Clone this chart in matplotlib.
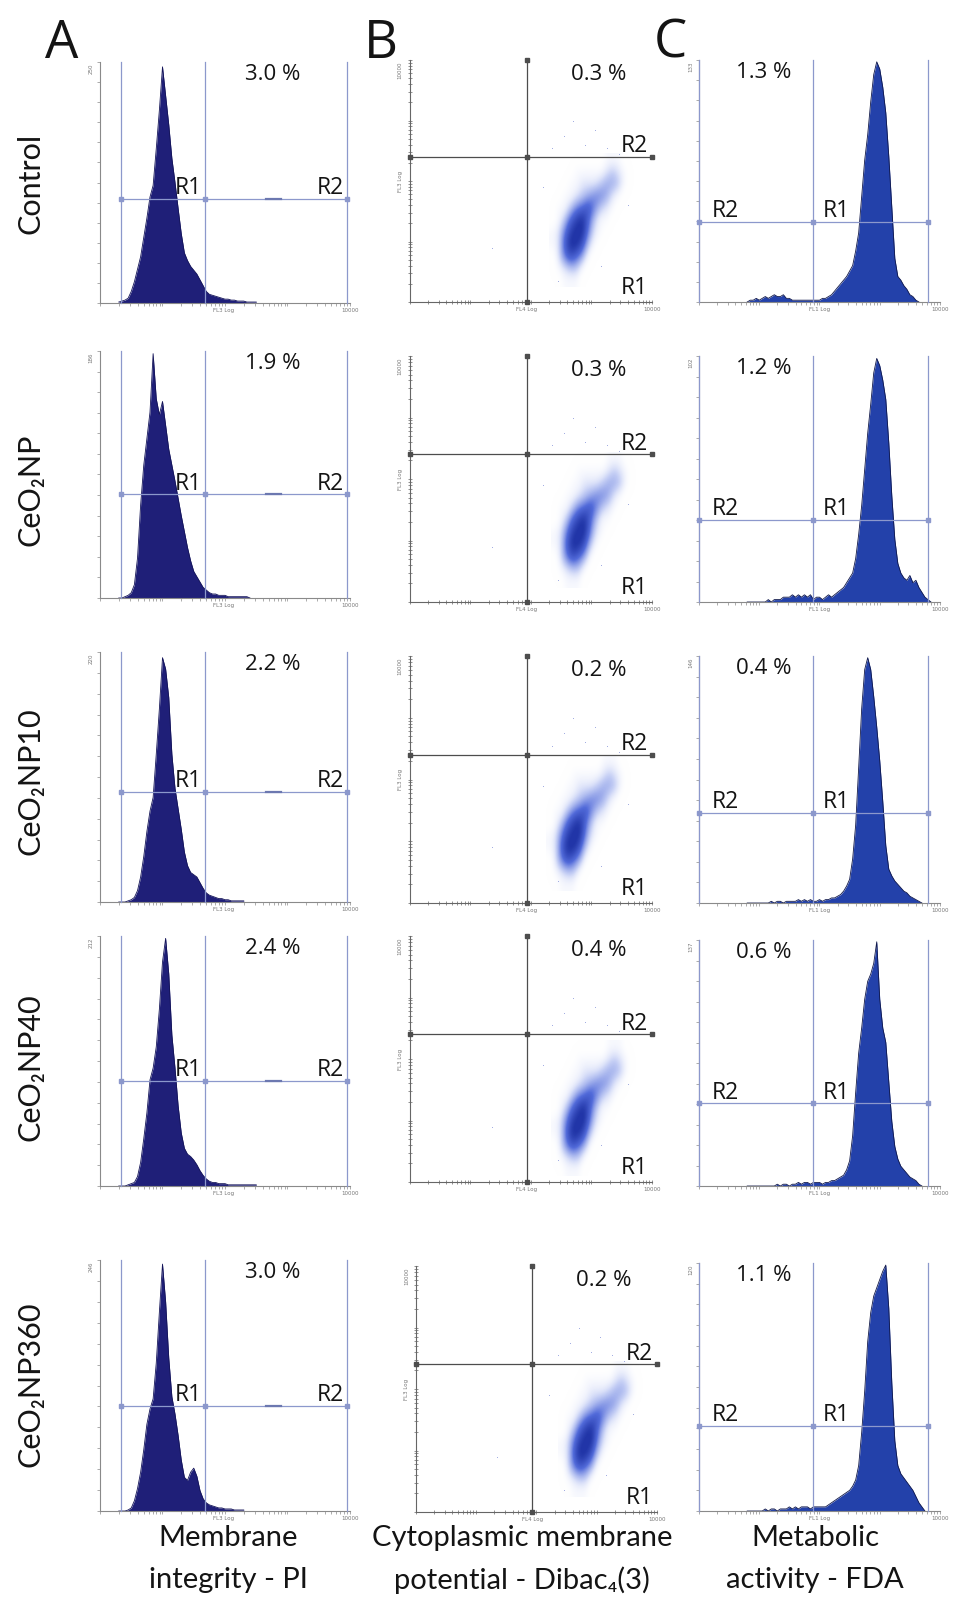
import numpy as np
import matplotlib
matplotlib.use("Agg")
import matplotlib.pyplot as plt
from matplotlib.colors import LinearSegmentedColormap

plt.rcParams["font.family"] = ["Lato", "DejaVu Sans"]
OPEN = ["Open Sans", "DejaVu Sans"]

W, H = 954, 1618  # canvas in pixels (dpi 100)

ROW_NAMES = ["Control", "CeO₂NP", "CeO₂NP10", "CeO₂NP40", "CeO₂NP360"]
COL_LINE1 = ["Membrane", "Cytoplasmic membrane", "Metabolic"]
COL_LINE2 = ["integrity - PI", "potential - Dibac₄(3)", "activity - FDA"]
PANEL_LETTERS = ["A", "B", "C"]

# ---- PI (FL3) histograms, channel centres in decades from 0.30, 0.05 apart
PI_START = 0.30
BIN = 0.05
PI_CONTROL = [1, 2, 3, 5, 12, 22, 35, 48, 68, 88, 110, 122, 160, 200, 245, 215, 185, 150, 125, 98,
              72, 52, 44, 38, 34, 30, 24, 18, 12, 9, 8, 7, 6, 5, 4, 4, 3, 3, 2, 2, 2, 1, 1, 1, 1]
PI_NP = [0, 0, 1, 2, 4, 10, 30, 70, 100, 120, 140, 184, 150, 138, 148, 130, 112, 100, 88, 75,
         62, 50, 38, 28, 20, 16, 12, 8, 6, 4, 3, 3, 2, 2, 2, 1, 1, 1, 1, 1, 1, 1, 0]
PI_NP10 = [0, 0, 0, 1, 2, 4, 10, 22, 40, 62, 80, 92, 130, 170, 215, 205, 180, 130, 100, 82,
           64, 44, 32, 26, 24, 22, 17, 12, 8, 6, 5, 4, 3, 3, 2, 2, 1, 1, 1, 1, 1]
PI_NP40 = [0, 0, 0, 1, 2, 3, 8, 20, 40, 62, 90, 100, 118, 150, 190, 210, 180, 128, 100, 68,
           45, 32, 27, 25, 22, 18, 13, 9, 6, 4, 3, 3, 2, 2, 2, 1, 1, 1, 1, 1, 1, 1, 1, 1, 1]
PI_NP360 = [0, 0, 0, 1, 3, 10, 22, 38, 60, 85, 100, 110, 145, 195, 242, 205, 150, 112, 95, 74,
            50, 33, 30, 38, 42, 34, 20, 12, 8, 6, 5, 4, 3, 3, 2, 2, 2, 1, 1, 1, 1]
PI_HISTS = [PI_CONTROL, PI_NP, PI_NP10, PI_NP40, PI_NP360]
PI_YMAX = [250, 186, 220, 212, 246]
PI_GATE_Y = [108, 78, 97, 89, 103]
PI_GATES_X = [0.34, 1.68, 3.95]
PI_PCT = ["3.0 %", "1.9 %", "2.2 %", "2.4 %", "3.0 %"]

# ---- FDA (FL1) histograms, channel centres in decades from 0.80
FDA_START = 0.80
FDA_CONTROL = [0, 1, 1, 2, 1, 2, 3, 2, 3, 4, 3, 3, 4, 2, 2, 1, 1, 1, 1, 1, 1, 1, 1, 1, 1,
               2, 2, 3, 4, 6, 8, 10, 12, 14, 17, 20, 28, 38, 58, 78, 92, 110, 125, 132, 128,
               118, 104, 80, 52, 24, 14, 12, 9, 7, 4, 3, 1, 0]
FDA_NP = [0, 0, 0, 0, 0, 0, 0, 1, 0, 1, 1, 1, 2, 2, 2, 3, 2, 3, 2, 3, 2, 3, 1, 2, 2, 1, 2,
          3, 2, 3, 4, 5, 6, 8, 10, 12, 18, 28, 40, 55, 70, 82, 95, 101, 98, 92, 84, 66, 44,
          26, 16, 12, 10, 9, 11, 8, 9, 6, 4, 2, 1, 0]
FDA_NP10 = [0, 0, 0, 0, 0, 0, 0, 0, 1, 0, 1, 1, 0, 1, 1, 1, 1, 2, 1, 2, 1, 2, 1, 1, 2, 1, 2,
            2, 3, 3, 4, 5, 7, 10, 14, 26, 46, 80, 115, 138, 145, 138, 122, 104, 84, 60, 34,
            20, 16, 13, 11, 9, 7, 6, 4, 3, 2, 1, 0]
FDA_NP40 = [0, 0, 0, 0, 0, 0, 0, 0, 0, 0, 1, 0, 1, 1, 0, 1, 1, 2, 1, 2, 2, 1, 2, 2, 2, 1, 2,
            2, 3, 3, 4, 5, 6, 9, 14, 28, 52, 74, 88, 104, 114, 118, 124, 136, 104, 88, 80,
            58, 36, 22, 15, 11, 9, 7, 5, 4, 3, 1, 0]
FDA_NP360 = [0, 0, 0, 0, 0, 0, 1, 0, 1, 1, 0, 1, 1, 1, 2, 1, 2, 1, 2, 2, 2, 1, 2, 2, 2, 2, 2,
             3, 4, 5, 6, 7, 8, 9, 10, 12, 15, 22, 38, 58, 82, 96, 104, 108, 112, 116, 119, 98,
             62, 34, 22, 18, 16, 14, 12, 10, 7, 4, 2, 0]
FDA_HISTS = [FDA_CONTROL, FDA_NP, FDA_NP10, FDA_NP40, FDA_NP360]
FDA_YMAX = [133, 102, 146, 137, 120]
FDA_GATE_Y = [44, 34, 53, 46, 41]
FDA_GATES_X = [0.0, 1.9, 3.8]
FDA_PCT = ["1.3 %", "1.2 %", "0.4 %", "0.6 %", "1.1 %"]

# ---- Dibac4(3) dot plots: FL4 vs FL3 event density (decades)
DENS_X = [2.35, 2.45, 2.55, 2.65, 2.75, 2.85, 2.95, 3.05, 3.15, 3.25, 3.35, 3.45, 3.55, 3.65]
DENS_Y = [0.3, 0.5, 0.7, 0.9, 1.1, 1.3, 1.5, 1.7, 1.9, 2.1, 2.3]
DENSITY = [
    [0, 0, 1, 1, 1, 0, 0, 0, 0, 0, 0, 0, 0, 0],
    [0, 1, 2, 3, 3, 1, 0, 0, 0, 0, 0, 0, 0, 0],
    [0, 2, 5, 7, 6, 4, 1, 0, 0, 0, 0, 0, 0, 0],
    [1, 2, 6, 9, 9, 7, 3, 1, 0, 0, 0, 0, 0, 0],
    [1, 2, 5, 8, 9, 9, 5, 2, 1, 0, 0, 0, 0, 0],
    [0, 1, 3, 6, 8, 9, 6, 3, 1, 1, 0, 0, 0, 0],
    [0, 1, 1, 3, 5, 6, 7, 5, 3, 2, 1, 0, 0, 0],
    [0, 0, 1, 1, 2, 3, 4, 5, 5, 4, 2, 1, 0, 0],
    [0, 0, 0, 1, 1, 2, 2, 2, 3, 4, 4, 3, 1, 0],
    [0, 0, 0, 0, 1, 1, 1, 1, 1, 2, 3, 2, 1, 0],
    [0, 0, 0, 0, 0, 0, 0, 0, 0, 1, 1, 1, 0, 0],
]
CLOUD_SHIFT_X = [0.0, 0.03, -0.05, 0.03, 0.06]
CLOUD_SHIFT_Y = [0.05, 0.03, 0.0, -0.1, 0.05]
STRAY_X = [2.35, 2.55, 2.9, 3.05, 3.25, 2.7, 3.45, 1.35, 2.2, 3.6, 2.45, 3.15]
STRAY_Y = [2.55, 2.75, 2.6, 2.85, 2.55, 3.0, 2.45, 0.9, 1.9, 1.6, 0.35, 0.6]
DIBAC_GATE_X = 1.93
DIBAC_GATE_Y = 2.4
DIBAC_PCT = ["0.3 %", "0.3 %", "0.2 %", "0.4 %", "0.2 %"]

# panel boxes in pixels: left, right, top, bottom
A_BOX = [(100, 350, 62, 303), (100, 350, 351, 598), (100, 350, 652, 902),
         (100, 350, 936, 1186), (100, 350, 1260, 1511)]
B_BOX = [(410, 652, 60, 302), (410, 652, 356, 602), (410, 652, 656, 903),
         (410, 652, 936, 1182), (416, 657, 1266, 1512)]
C_BOX = [(699, 940, 60, 302), (699, 940, 356, 602), (699, 940, 656, 903),
         (699, 940, 940, 1186), (699, 940, 1263, 1511)]
ROW_Y = [183, 490, 781, 1067, 1384]

LOG_TICKS = np.log10([k * 10 ** d for d in range(4) for k in range(1, 10)] + [10000])
AXIS_GREY = "#8a8a8a"
INK = "#141414"
TICK_TXT = dict(fontsize=4, color="#777777", family="DejaVu Sans")

DOT_CMAP = LinearSegmentedColormap.from_list(
    "dots", [(1, 1, 1, 0), (0.70, 0.75, 0.95, 0.75), (0.30, 0.40, 0.85, 0.97), (0.13, 0.21, 0.66, 1.0)])


def px_axes(fig, box):
    l, r, t, b = box
    return fig.add_axes([l / W, 1 - b / H, (r - l) / W, (b - t) / H])


def frame(ax, color, ylog=False, ymax=None):
    for s in ("top", "right"):
        ax.spines[s].set_visible(False)
    for s in ("left", "bottom"):
        ax.spines[s].set_color(color)
        ax.spines[s].set_linewidth(0.8)
    ax.set_xticks(LOG_TICKS)
    if ylog:
        ax.set_yticks(LOG_TICKS)
    else:
        ax.set_yticks(np.linspace(0, ymax, 13))
    ax.tick_params(length=2.5, width=0.5, color=color, direction="out",
                   labelbottom=False, labelleft=False)
    ax.set_facecolor("none")


def gate_marks(ax, xs, ys, color, ms=3):
    ax.plot(xs, ys, ls="none", marker="s", ms=ms, mfc=color, mec=color, zorder=5, clip_on=False)


def hist_panel(ax, counts, start, ymax, gate_y, gates_x, pct, pct_x,
               fill, edge, gate_col, fl_label, fl_x, labels, handle=False):
    x = start + BIN * np.arange(len(counts))
    ax.fill_between(x, counts, color=fill, lw=0, zorder=2)
    ax.plot(x, counts, color=edge, lw=0.6, zorder=2)
    ax.set_xlim(0, 4)
    ax.set_ylim(0, ymax)
    frame(ax, AXIS_GREY, ymax=ymax)

    for gx in gates_x:
        ax.plot([gx, gx], [0, ymax], color=gate_col, lw=0.9, zorder=3, clip_on=False)
    ax.plot([gates_x[0], gates_x[-1]], [gate_y, gate_y], color=gate_col, lw=0.9, zorder=3)
    gate_marks(ax, gates_x, [gate_y] * 3, gate_col)
    if handle:
        ax.plot([2.65, 2.9], [gate_y, gate_y], color="#6c78b0", lw=1.6, zorder=4)

    for txt, lx, ha, dx in labels:
        ax.annotate(txt, xy=(lx, gate_y), xytext=(dx, 3.5), textcoords="offset points",
                    ha=ha, va="baseline", fontsize=16.5, color=INK, family=OPEN, zorder=6)
    ax.text(pct_x, 0.95, pct, transform=ax.transAxes, ha="center", va="center",
            fontsize=16, color=INK, family=OPEN)

    ax.text(1.0, -0.02, "10000", transform=ax.transAxes, ha="center", va="top", **TICK_TXT)
    ax.text(fl_x / 4, -0.02, fl_label, transform=ax.transAxes, ha="center", va="top", **TICK_TXT)
    ax.text(-0.035, 0.995, str(ymax), transform=ax.transAxes, rotation=90,
            ha="center", va="top", **TICK_TXT)


def dot_panel(ax, row):
    dx = DENS_X[1] - DENS_X[0]
    dy = DENS_Y[1] - DENS_Y[0]
    sx, sy = CLOUD_SHIFT_X[row], CLOUD_SHIFT_Y[row]
    extent = (DENS_X[0] - dx / 2 + sx, DENS_X[-1] + dx / 2 + sx,
              DENS_Y[0] - dy / 2 + sy, DENS_Y[-1] + dy / 2 + sy)
    ax.imshow(np.array(DENSITY, dtype=float), origin="lower", extent=extent, cmap=DOT_CMAP,
              vmin=0, vmax=8.5, interpolation="bicubic", aspect="auto", zorder=1)
    ax.scatter(STRAY_X, STRAY_Y, s=0.5, color="#7f8dd6", alpha=0.6, lw=0, zorder=1)
    ax.set_xlim(0, 4)
    ax.set_ylim(0, 4)
    frame(ax, "#666666", ylog=True)
    ax.tick_params(direction="inout", length=3)

    col = "#4d4d4d"
    ax.plot([DIBAC_GATE_X, DIBAC_GATE_X], [0, 4], color=col, lw=0.9, zorder=3, clip_on=False)
    ax.plot([0, 4], [DIBAC_GATE_Y, DIBAC_GATE_Y], color=col, lw=0.9, zorder=3, clip_on=False)
    gate_marks(ax, [DIBAC_GATE_X, DIBAC_GATE_X, DIBAC_GATE_X, 0, 4],
               [0, 4, DIBAC_GATE_Y, DIBAC_GATE_Y, DIBAC_GATE_Y], col, ms=2.4)

    ax.annotate("R2", xy=(4, DIBAC_GATE_Y), xytext=(-3, 3.5), textcoords="offset points",
                ha="right", va="baseline", fontsize=16.5, color=INK, family=OPEN)
    ax.annotate("R1", xy=(4, 0), xytext=(-3, 6), textcoords="offset points",
                ha="right", va="baseline", fontsize=16.5, color=INK, family=OPEN)
    ax.text(0.78, 0.94, DIBAC_PCT[row], transform=ax.transAxes, ha="center", va="center",
            fontsize=16, color=INK, family=OPEN)

    ax.text(1.0, -0.02, "10000", transform=ax.transAxes, ha="center", va="top", **TICK_TXT)
    ax.text(DIBAC_GATE_X / 4, -0.02, "FL4 Log", transform=ax.transAxes, ha="center", va="top", **TICK_TXT)
    ax.text(-0.04, 0.995, "10000", transform=ax.transAxes, rotation=90,
            ha="center", va="top", **TICK_TXT)
    ax.text(-0.04, 0.5, "FL3 Log", transform=ax.transAxes, rotation=90,
            ha="center", va="center", **TICK_TXT)


fig = plt.figure(figsize=(W / 100, H / 100), dpi=100)

for row in range(5):
    ax = px_axes(fig, A_BOX[row])
    hist_panel(ax, PI_HISTS[row], PI_START, PI_YMAX[row], PI_GATE_Y[row], PI_GATES_X,
               PI_PCT[row], 0.69, "#1f1f78", "#141458", "#8c98cc", "FL3 Log", 1.97,
               [("R1", PI_GATES_X[1], "right", -2), ("R2", PI_GATES_X[2], "right", -2)],
               handle=True)

    ax = px_axes(fig, B_BOX[row])
    dot_panel(ax, row)

    ax = px_axes(fig, C_BOX[row])
    hist_panel(ax, FDA_HISTS[row], FDA_START, FDA_YMAX[row], FDA_GATE_Y[row], FDA_GATES_X,
               FDA_PCT[row], 0.27, "#2341aa", "#10184a", "#8c98cc", "FL1 Log", 2.0,
               [("R2", FDA_GATES_X[0], "left", 9), ("R1", FDA_GATES_X[1], "left", 7)])

    fig.text(31 / W, 1 - ROW_Y[row] / H, ROW_NAMES[row], rotation=90, ha="center",
             va="center", fontsize=22, color=INK)

for x, letter in zip([45, 364, 654], PANEL_LETTERS):
    fig.text(x / W, 1 - 58 / H, letter, ha="left", va="baseline", fontsize=38,
             color=INK, family=OPEN)

for x, l1, l2 in zip([228, 522, 815], COL_LINE1, COL_LINE2):
    fig.text(x / W, 1 - 1538 / H, l1, ha="center", va="center", fontsize=21, color=INK)
    fig.text(x / W, 1 - 1580 / H, l2, ha="center", va="center", fontsize=21, color=INK)

fig.savefig("out.png", dpi=100)
